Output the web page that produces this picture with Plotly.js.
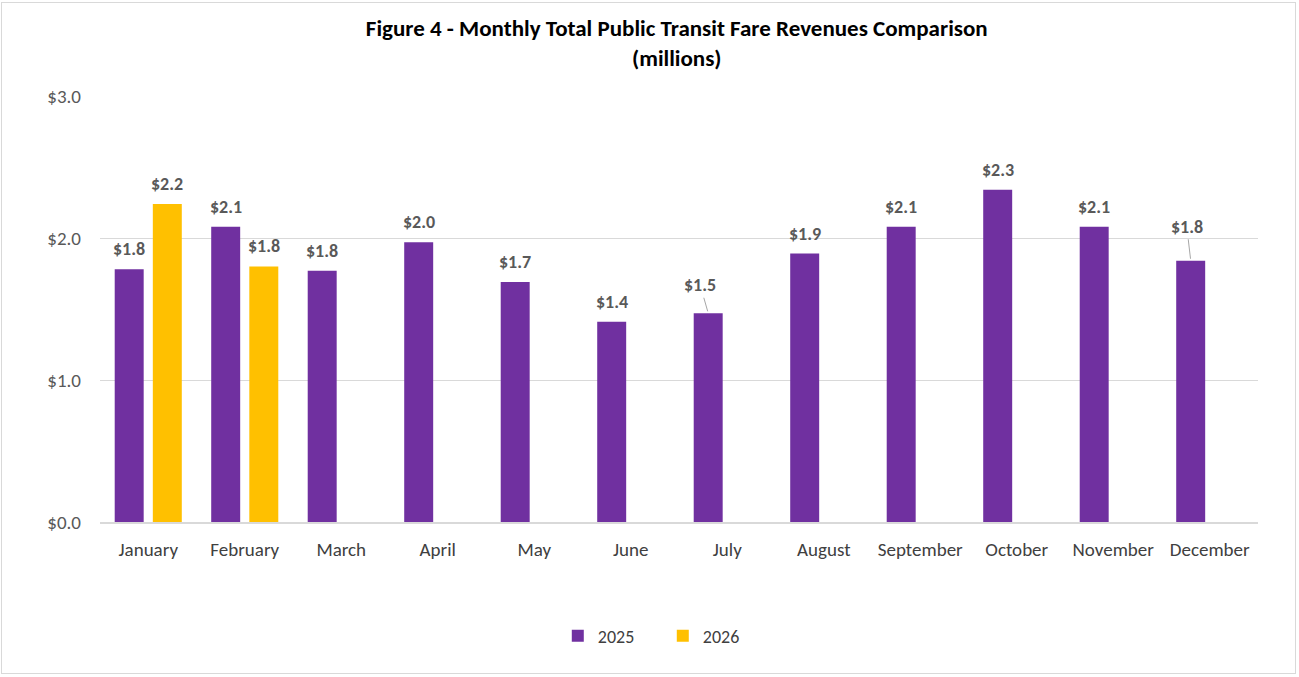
<!DOCTYPE html>
<html><head><meta charset="utf-8">
<script src="https://cdn.plot.ly/plotly-3.0.1.min.js"></script>
<style>
html,body{margin:0;padding:0;background:#fff;}
#wrap{position:absolute;left:1px;top:2px;width:1295px;height:672px;border:1px solid #d9d9d9;box-sizing:border-box;}
#chart{position:absolute;left:0;top:0;width:1299px;height:677px;}
</style></head>
<body>
<div id="wrap"></div>
<div id="chart"></div>
<script>
const months = ["January","February","March","April","May","June","July","August","September","October","November","December"];
const rev2025 = [1.78, 2.08, 1.77, 1.97, 1.69, 1.41, 1.47, 1.89, 2.08, 2.34, 2.08, 1.84];
const rev2026 = [2.24, 1.80, null, null, null, null, null, null, null, null, null, null];
const labelOffsets2025 = {"July":[-8,-28],"December":[-4,-34]};

const purple = "#7030A0", gold = "#FFC000", grey = "#595959";
const font = "Calibri, Lato, 'Open Sans', sans-serif";

const traces = [
  {type:"bar", name:"2025", x:months, y:rev2025, marker:{color:purple}, hoverinfo:"y"},
  {type:"bar", name:"2026", x:months, y:rev2026, marker:{color:gold}, hoverinfo:"y"}
];

const annotations = [];
function addLabels(vals, shift){
  vals.forEach((v,i)=>{
    if(v===null) return;
    const m = months[i];
    const off = (shift<0 && labelOffsets2025[m]) ? labelOffsets2025[m] : null;
    if(off){
      annotations.push({x:m, y:v, xref:"x", yref:"y", xshift:shift, text:"$"+v.toFixed(1),
        showarrow:true, arrowhead:0, arrowwidth:1, arrowcolor:"#a6a6a6", ax:off[0], ay:off[1],
        standoff:2, font:{family:font,size:18,color:grey,weight:"bold"}});
    } else {
      annotations.push({x:m, y:v, xref:"x", yref:"y", xshift:shift, yshift:20, text:"$"+v.toFixed(1),
        showarrow:false, font:{family:font,size:18,color:grey,weight:"bold"}});
    }
  });
}
addLabels(rev2025, -19);
addLabels(rev2026, 19);

const layout = {
  width:1299, height:677,
  paper_bgcolor:"rgba(0,0,0,0)", plot_bgcolor:"rgba(0,0,0,0)",
  margin:{l:100, r:41, t:96, b:155},
  title:{text:"<b>Figure 4 - Monthly Total Public Transit Fare Revenues Comparison<br>(millions)</b>",
    x:0.521, xanchor:"center", y:0.947, yanchor:"top", font:{family:font,size:23,color:"#000"}},
  barmode:"group", bargap:0.21, bargroupgap:0.24,
  xaxis:{type:"category", showgrid:false, showline:true, linecolor:"#d9d9d9", linewidth:1.5,
    ticks:"", ticklabelstandoff:10, tickfont:{family:font,size:19,color:"#404040"}},
  yaxis:{range:[0,3], dtick:1, tickformat:"$.1f", showgrid:true, gridcolor:"#d9d9d9", gridwidth:1,
    zeroline:false, showline:false, ticks:"", ticklabelstandoff:18, tickfont:{family:font,size:19,color:grey}},
  legend:{orientation:"h", x:0.486, xanchor:"center", y:-0.268, yanchor:"middle",
    font:{family:font,size:18,color:"#404040"}, itemwidth:30, traceorder:"normal", entrywidth:60},
  annotations:annotations,
  showlegend:true
};
Plotly.newPlot("chart", traces, layout, {displayModeBar:false, staticPlot:true});
</script>
</body></html>
